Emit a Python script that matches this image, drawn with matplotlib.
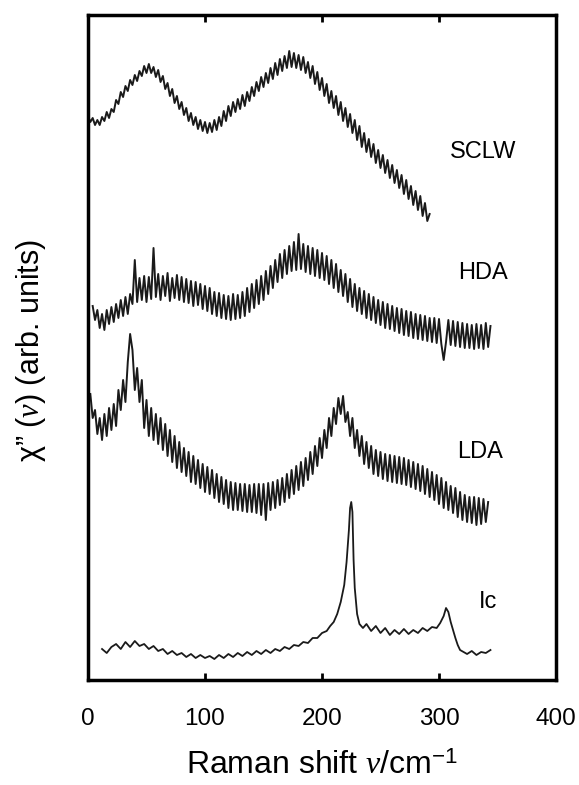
import numpy as np
import matplotlib
matplotlib.use('Agg')
import matplotlib.pyplot as plt

plt.rcParams['font.family'] = ['Liberation Sans', 'DejaVu Sans']
plt.rcParams['mathtext.fontset'] = 'custom'
plt.rcParams['mathtext.rm'] = 'Liberation Sans'
plt.rcParams['mathtext.it'] = 'Liberation Serif:italic'

# Raman spectra chi''(nu), arbitrary units, stacked
sclw_x = list(range(0, 293, 2))
sclw_y = [564, 558, 562, 555, 560, 555, 563, 559, 568, 562, 571, 568, 580, 576, 588, 583,
          594, 589, 600, 595, 605, 599, 609, 604, 614, 607, 616, 607, 613, 603, 610, 598,
          604, 591, 597, 584, 591, 577, 584, 571, 578, 565, 572, 559, 567, 555, 563, 551,
          560, 549, 558, 547, 557, 548, 560, 550, 563, 554, 569, 559, 574, 564, 578, 568,
          581, 571, 585, 574, 588, 579, 593, 584, 598, 589, 603, 593, 607, 597, 612, 601,
          617, 605, 621, 609, 624, 612, 629, 613, 627, 612, 625, 610, 623, 607, 618, 602,
          614, 596, 608, 590, 602, 584, 596, 577, 589, 572, 584, 565, 578, 559, 572, 553,
          566, 547, 560, 540, 554, 533, 547, 528, 541, 523, 536, 517, 530, 512, 525, 507,
          520, 502, 515, 497, 510, 492, 505, 486, 500, 481, 494, 475, 489, 470, 484, 464,
          477, 459, 466]

hda_x = list(range(4, 345, 2))
hda_y = [374, 360, 370, 352, 366, 350, 370, 356, 373, 358, 376, 362, 380, 364, 383, 366,
         386, 376, 420, 378, 402, 380, 404, 378, 403, 381, 432, 383, 406, 380, 404, 384,
         407, 379, 402, 382, 405, 380, 403, 378, 401, 377, 399, 374, 398, 375, 396, 371,
         394, 369, 392, 366, 388, 364, 387, 362, 385, 361, 384, 360, 386, 361, 385, 362,
         388, 364, 392, 368, 396, 372, 400, 376, 404, 380, 409, 386, 414, 392, 420, 398,
         426, 402, 430, 406, 434, 409, 438, 410, 446, 411, 436, 408, 434, 406, 432, 404,
         430, 402, 427, 400, 424, 396, 420, 392, 416, 388, 410, 384, 406, 378, 401, 373,
         396, 369, 392, 366, 389, 362, 386, 360, 383, 357, 380, 355, 378, 352, 376, 351,
         374, 349, 372, 347, 371, 345, 369, 344, 368, 342, 366, 341, 365, 340, 364, 339,
         362, 338, 362, 337, 361, 336, 320, 338, 360, 335, 359, 334, 358, 333, 357, 332,
         356, 332, 355, 331, 356, 332, 355, 331, 357, 333, 354]

lda_x = list(range(2, 343, 2))
lda_y = [286, 262, 270, 246, 262, 240, 266, 244, 272, 250, 276, 254, 290, 270, 300, 278,
         318, 346, 330, 290, 312, 278, 300, 252, 280, 244, 272, 240, 266, 236, 262, 230,
         256, 224, 250, 218, 244, 212, 238, 208, 232, 204, 228, 198, 224, 196, 220, 192,
         216, 188, 213, 186, 210, 182, 206, 178, 203, 176, 200, 172, 198, 170, 197, 170,
         196, 169, 196, 168, 195, 168, 196, 167, 196, 165, 196, 160, 197, 170, 198, 172,
         200, 175, 202, 178, 206, 182, 210, 186, 214, 190, 218, 194, 222, 200, 228, 206,
         234, 214, 242, 222, 250, 232, 262, 244, 272, 256, 282, 266, 284, 258, 268, 244,
         262, 232, 250, 224, 244, 216, 238, 212, 234, 206, 230, 204, 228, 201, 226, 199,
         225, 198, 224, 197, 223, 196, 222, 195, 220, 193, 218, 191, 216, 189, 214, 186,
         211, 183, 208, 180, 205, 176, 202, 172, 198, 170, 194, 167, 192, 163, 188, 160,
         185, 158, 183, 157, 183, 155, 182, 156, 181, 158, 178]

ic_x = [12, 16, 20, 24, 28, 32, 36, 40, 44, 48, 52, 56, 60, 64, 68, 72, 76, 80, 84, 88,
        92, 96, 100, 104, 108, 112, 116, 120, 124, 128, 132, 136, 140, 144, 148, 152, 156,
        160, 164, 168, 172, 176, 180, 184, 188, 192, 196, 200, 204, 207, 210, 213, 216,
        219, 221, 223, 224, 225, 226, 227, 228, 230, 232, 235, 238, 242, 246, 250, 254,
        258, 262, 266, 270, 274, 278, 282, 286, 290, 294, 298, 301, 304, 306, 308, 310,
        312, 314, 316, 318, 321, 324, 328, 332, 336, 340, 344]
ic_y = [31, 27, 33, 36, 31, 38, 33, 39, 34, 36, 31, 34, 29, 31, 26, 29, 25, 27, 23, 26,
        22, 25, 22, 24, 21, 25, 22, 26, 23, 27, 24, 28, 25, 29, 26, 30, 27,
        31, 29, 33, 31, 35, 34, 38, 37, 42, 42, 47, 49, 54, 58, 66, 78,
        95, 118, 150, 172, 178, 168, 120, 92, 66, 56, 52, 56, 49, 54, 47, 52,
        45, 50, 46, 51, 46, 50, 47, 52, 49, 53, 52, 57, 64, 72, 68, 58,
        50, 42, 35, 30, 28, 26, 29, 25, 28, 27, 30]

labels = ['SCLW', 'HDA', 'LDA', 'Ic']
label_x = [338, 338, 335, 342]
label_y = [528, 407, 228, 78]

fig = plt.figure(figsize=(5.79, 7.85), dpi=100)
ax = fig.add_axes([88 / 579, 1 - 680 / 785, 468 / 579, 665 / 785])

# noisy spectra drawn a bit thicker so they read as dense bands
for xs, ys in [(sclw_x, sclw_y), (hda_x, hda_y), (lda_x, lda_y)]:
    ax.plot(xs, ys, color='#1a1a1a', lw=1.4)
ax.plot(ic_x, ic_y, color='#1a1a1a', lw=1.3)

for name, lx, ly in zip(labels, label_x, label_y):
    ax.text(lx, ly, name, fontsize=17, ha='center', va='center')

ax.set_xlim(0, 400)
ax.set_ylim(0, 665)
ax.set_xticks([0, 100, 200, 300, 400])
ax.set_yticks([])
ax.tick_params(axis='x', direction='in', top=True, bottom=True, length=5, width=2,
               labelsize=17.5, pad=20)
for sp in ax.spines.values():
    sp.set_linewidth(2.5)

ax.set_xlabel(r'Raman shift $\nu$/cm$^{-1}$', fontsize=23, labelpad=15)
ax.set_ylabel(r'χ” $(\nu)$ (arb. units)', fontsize=22)
ax.yaxis.set_label_coords(-0.085, 0.496)

fig.savefig('out.png', dpi=100)
